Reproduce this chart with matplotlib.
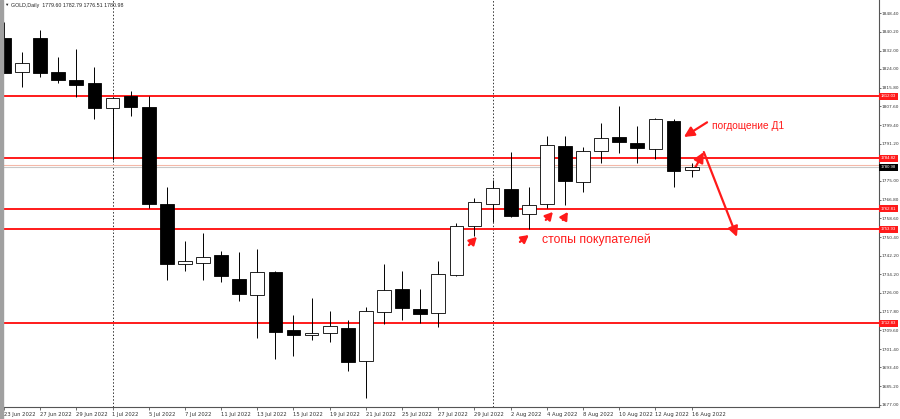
import matplotlib.pyplot as plt
import matplotlib.transforms as mtransforms
from matplotlib.patches import Rectangle

# Daily GOLD candles, 23 Jun 2022 .. 16 Aug 2022
dates = ['23 Jun', '24 Jun', '27 Jun', '28 Jun', '29 Jun', '30 Jun', '1 Jul', '4 Jul',
         '5 Jul', '6 Jul', '7 Jul', '8 Jul', '11 Jul', '12 Jul', '13 Jul', '14 Jul',
         '15 Jul', '18 Jul', '19 Jul', '20 Jul', '21 Jul', '22 Jul', '25 Jul', '26 Jul',
         '27 Jul', '28 Jul', '29 Jul', '1 Aug', '2 Aug', '3 Aug', '4 Aug', '5 Aug',
         '8 Aug', '9 Aug', '10 Aug', '11 Aug', '12 Aug', '15 Aug', '16 Aug']
opens = [1837.5, 1822.6, 1837.5, 1822.6, 1819.1, 1817.8, 1806.9, 1812.1, 1807.3, 1764.9,
         1738.6, 1739.1, 1742.6, 1732.1, 1725.1, 1735.2, 1709.8, 1707.6, 1708.5, 1710.7,
         1696.2, 1717.7, 1727.7, 1719.0, 1717.2, 1733.8, 1755.3, 1764.9, 1771.4, 1760.5,
         1764.9, 1790.2, 1774.5, 1788.1, 1794.2, 1791.5, 1788.9, 1801.2, 1779.60]
highs = [1844.5, 1831.3, 1841.0, 1829.2, 1832.7, 1824.8, 1811.5, 1814.3, 1812.1, 1772.3,
         1748.7, 1752.2, 1744.3, 1743.9, 1745.2, 1735.6, 1716.3, 1723.8, 1718.1, 1714.2,
         1719.8, 1738.6, 1735.6, 1727.7, 1740.0, 1756.6, 1767.5, 1775.4, 1787.6, 1772.3,
         1794.6, 1794.6, 1789.8, 1800.3, 1807.7, 1799.0, 1802.5, 1802.1, 1782.79]
lows = [1822.0, 1816.0, 1820.4, 1817.8, 1811.7, 1802.0, 1784.1, 1803.4, 1763.1, 1731.7,
        1735.6, 1731.7, 1730.8, 1722.5, 1706.3, 1697.1, 1698.4, 1705.4, 1704.5, 1691.9,
        1680.1, 1712.4, 1714.2, 1712.9, 1711.1, 1733.6, 1750.9, 1757.0, 1759.2, 1753.9,
        1763.1, 1764.4, 1770.1, 1782.8, 1787.2, 1782.8, 1784.6, 1772.3, 1776.51]
closes = [1822.2, 1826.5, 1822.2, 1819.1, 1816.9, 1806.9, 1811.2, 1807.3, 1764.9, 1738.6,
          1740.0, 1741.7, 1733.4, 1725.5, 1735.2, 1708.9, 1707.6, 1708.5, 1711.5, 1695.8,
          1718.1, 1727.3, 1719.4, 1716.8, 1734.3, 1755.3, 1765.8, 1771.9, 1759.6, 1764.4,
          1790.7, 1775.0, 1788.1, 1793.7, 1792.0, 1789.4, 1802.1, 1779.3, 1780.98]

tick_idx = list(range(0, len(dates), 2))
tick_text = [dates[i] + ' 2022' for i in tick_idx]

price_ticks = [1848.40, 1840.20, 1832.00, 1824.00, 1815.80, 1807.60, 1799.40, 1791.20,
               1775.00, 1766.80, 1758.60, 1750.40, 1742.20, 1734.20, 1726.00, 1717.80,
               1709.60, 1701.40, 1693.40, 1685.20, 1677.00]
levels = [1812.03, 1784.82, 1762.81, 1753.93, 1712.83]
bid = 1780.98
month_starts = [6, 27]

fig = plt.figure(figsize=(9, 4.19), dpi=100)
fig.patch.set_facecolor('white')
ax = fig.add_axes([3 / 900, 12 / 419, 876 / 900, 407 / 419])
plt.rcParams['font.family'] = ['Liberation Sans', 'DejaVu Sans']

# candles
for i in range(len(dates)):
    o, h, l, c = opens[i], highs[i], lows[i], closes[i]
    ax.vlines(i, l, h, color='black', linewidth=0.7, zorder=3)
    bottom = min(o, c)
    height = max(abs(c - o), 0.6)
    face = 'black' if c < o else 'white'
    ax.bar(i, height, bottom=bottom, width=0.76, color=face, edgecolor='black',
           linewidth=0.6, zorder=4)

# horizontal levels
for lv in levels:
    ax.axhline(lv, color='#ff1a1a', linewidth=1.4, zorder=2)
ax.axhline(bid + 0.9, color='#f4b8a8', linewidth=0.8, zorder=2)
ax.axhline(bid, color='#c8c8c8', linewidth=0.8, zorder=2)

for m in month_starts:
    ax.axvline(m, color='#333333', linewidth=0.7, linestyle=(0, (1.5, 2)), zorder=1)

ax.set_xlim(-0.05, 48.35)
ax.set_ylim(1676.1, 1854.1)

ax.yaxis.tick_right()
ax.set_yticks(price_ticks)
ax.set_yticklabels(['%.2f' % p for p in price_ticks], fontsize=3.1, color='#333333')
ax.set_xticks(tick_idx)
ax.set_xticklabels(tick_text, fontsize=3.8, color='#333333', ha='left')
ax.tick_params(axis='x', length=2, width=0.5, pad=1.5, colors='#333333')
ax.tick_params(axis='y', length=1.5, width=0.5, pad=0.6, colors='#333333')
for s in ['top', 'left']:
    ax.spines[s].set_visible(False)
for s in ['right', 'bottom']:
    ax.spines[s].set_color('#555555')
    ax.spines[s].set_linewidth(0.8)

# price boxes on the right scale
tr = mtransforms.blended_transform_factory(ax.transAxes, ax.transData)
for lv in levels:
    ax.text(1.002, lv, '%.2f' % lv, transform=tr, fontsize=3.1, color='white',
            ha='left', va='center', zorder=6, clip_on=False,
            bbox=dict(boxstyle='square,pad=0.35', fc='#ff1a1a', ec='none'))
ax.text(1.002, bid, '%.2f' % bid, transform=tr, fontsize=3.1, color='white',
        ha='left', va='center', zorder=6, clip_on=False,
        bbox=dict(boxstyle='square,pad=0.35', fc='black', ec='none'))

# header
fig.text(4 / 900, 1 - 5 / 419, '\u25bc', fontsize=3.2, color='#222222', va='center')
fig.text(11 / 900, 1 - 5 / 419, 'GOLD,Daily  %.2f %.2f %.2f %.2f' %
         (opens[-1], highs[-1], lows[-1], closes[-1]),
         fontsize=3.8, color='#222222', va='center')

# left window border
fig.add_artist(Rectangle((0, 0), 3 / 900, 1, transform=fig.transFigure,
                         color='#a0a0a0', zorder=10))

# annotations
red = '#ff1a1a'
ax.text(39.1, 1799.0, 'погдощение Д1', color=red, fontsize=7.3, va='center', ha='left')
ax.text(29.75, 1749.2, 'стопы покупателей', color=red, fontsize=8.8, va='center', ha='left')

big = dict(arrowstyle='-|>,head_length=0.6,head_width=0.3', color=red, linewidth=1.6,
           shrinkA=0, shrinkB=0)
ax.annotate('', xy=(37.57, 1794.2), xytext=(38.85, 1800.6), arrowprops=big)
ax.annotate('', xy=(38.67, 1787.6), xytext=(38.12, 1779.7), arrowprops=big)
ax.annotate('', xy=(40.5, 1750.5), xytext=(38.67, 1787.6), arrowprops=big)

small = dict(arrowstyle='-|>,head_length=0.45,head_width=0.25', color=red, linewidth=1.6,
             shrinkA=0, shrinkB=0)
stops = [((25.69, 1746.9), (26.13, 1750.5)),
         ((28.51, 1748.3), (29.0, 1751.3)),
         ((29.94, 1757.9), (30.33, 1761.4)),
         ((30.88, 1757.9), (31.16, 1761.4))]
for tail, head in stops:
    ax.annotate('', xy=head, xytext=tail, arrowprops=small)

fig.savefig('out.png', dpi=100)
